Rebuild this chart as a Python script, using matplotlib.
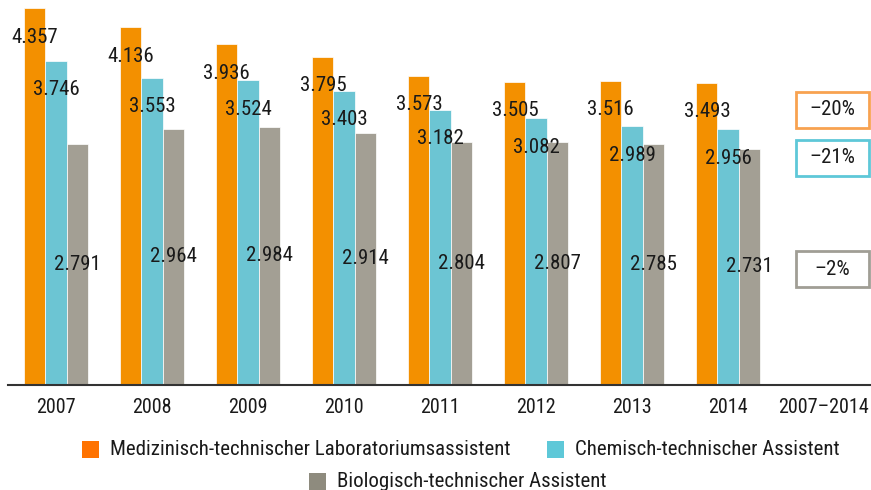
import matplotlib.pyplot as plt
from matplotlib.patches import Rectangle

plt.rcParams['font.family'] = ['Roboto Condensed', 'DejaVu Sans']

years = ['2007', '2008', '2009', '2010', '2011', '2012', '2013', '2014']
last_label = '2007–2014'
mtla = [4357, 4136, 3936, 3795, 3573, 3505, 3516, 3493]
cta = [3746, 3553, 3524, 3403, 3182, 3082, 2989, 2956]
bta = [2791, 2964, 2984, 2914, 2804, 2807, 2785, 2731]
changes = ['–20%', '–21%', '–2%']
series_names = ['Medizinisch-technischer Laboratoriumsassistent',
                'Chemisch-technischer Assistent',
                'Biologisch-technischer Assistent']

ORANGE = '#f39000'
CYAN = '#6cc5d3'
GRAY = '#a39f94'
LEG_COLORS = ['#ff7300', '#5ec8d8', '#8e8b7e']
BOX_EDGES = ['#f8a250', '#5ec8d8', '#a09e95']
TXT = '#1a1a1a'


def fmt(v):
    return f'{v:,}'.replace(',', '.')


def main():
    fig = plt.figure(figsize=(8.71, 4.90), dpi=100)
    ax = fig.add_axes([8 / 871, 105 / 490, 863 / 871, 385 / 490])

    w = 0.22
    x = list(range(len(years)))
    ax.bar([i - w for i in x], mtla, w, color=ORANGE, edgecolor='white', linewidth=0.5)
    ax.bar(x, cta, w, color=CYAN, edgecolor='white', linewidth=0.5)
    ax.bar([i + w for i in x], bta, w, color=GRAY, edgecolor='white', linewidth=0.5)

    # value labels
    off = 335
    fs = 15
    for i in x:
        ax.text(i - w, mtla[i] - off, fmt(mtla[i]), ha='center', va='center', fontsize=fs, color=TXT)
        ax.text(i, cta[i] - off, fmt(cta[i]), ha='center', va='center', fontsize=fs, color=TXT)
        ax.text(i + w, bta[i] / 2, fmt(bta[i]), ha='center', va='center', fontsize=fs, color=TXT)

    # change boxes in the 2007–2014 column
    n = len(years)
    bx = n + 0.09
    box_y = [3180, 2625, 1340]
    bw, bh = 0.76, 416
    for txt, yy, ec in zip(changes, box_y, BOX_EDGES):
        ax.add_patch(Rectangle((bx - bw / 2, yy - bh / 2), bw, bh, facecolor='white',
                               edgecolor=ec, linewidth=2, clip_on=False))
        ax.text(bx, yy, txt, ha='center', va='center', fontsize=fs, color=TXT)

    ax.set_xlim(-0.5, 8.49)
    ax.set_ylim(0, 4450)
    ax.set_xticks(x + [n])
    ax.set_xticklabels(years + [last_label], fontsize=14.5, color=TXT)
    ax.tick_params(axis='x', length=0, pad=9)
    ax.set_yticks([])
    for s in ['top', 'left', 'right']:
        ax.spines[s].set_visible(False)
    ax.spines['bottom'].set_color('#333333')
    ax.spines['bottom'].set_linewidth(1.5)

    # legend, two centred rows
    legend_rows = [
        [(82, 449, 0), (547, 449, 1)],
        [(309, 481, 2)],
    ]
    for row in legend_rows:
        for px, py, k in row:
            fig.patches.append(Rectangle((px / 871, (490 - py - 8.5) / 490), 17 / 871, 17 / 490,
                                         transform=fig.transFigure, facecolor=LEG_COLORS[k],
                                         edgecolor='none'))
            fig.text((px + 28) / 871, (490 - py) / 490, series_names[k], ha='left', va='center',
                     fontsize=15, color=TXT)

    fig.savefig('out.png', dpi=100)


if __name__ == '__main__':
    main()
